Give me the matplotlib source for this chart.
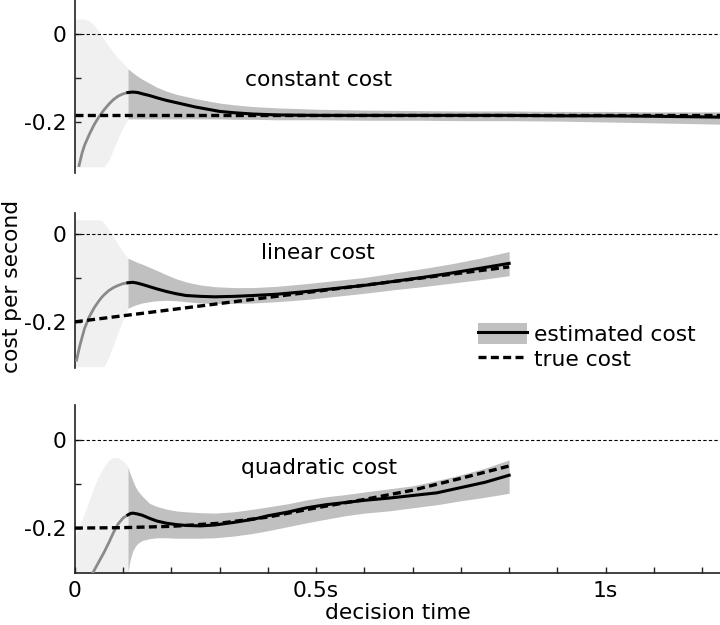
import matplotlib
matplotlib.use("Agg")
import matplotlib.pyplot as plt
import numpy as np
from matplotlib.patches import Patch
from matplotlib.lines import Line2D

# ---- data (x in seconds, y = cost per second) ----
nan = np.nan

# constant cost panel
c_t_early = [0, 0.008, 0.015, 0.02, 0.03, 0.04, 0.05, 0.06, 0.07, 0.08, 0.09, 0.10, 0.11]
c_est_early = [nan, -0.302, -0.27, -0.253, -0.228, -0.206, -0.188, -0.173, -0.160, -0.149, -0.141, -0.136, -0.133]
c_hi_early = [0.034, 0.034, 0.034, 0.034, 0.030, 0.020, 0.005, -0.012, -0.027, -0.042, -0.056, -0.067, -0.079]
c_lo_early = [-0.302, -0.302, -0.302, -0.302, -0.302, -0.302, -0.302, -0.302, -0.288, -0.262, -0.236, -0.212, -0.193]
c_t = [0.11, 0.12, 0.13, 0.14, 0.155, 0.17, 0.19, 0.21, 0.23, 0.25, 0.275, 0.30, 0.33, 0.37, 0.42,
       0.5, 0.6, 0.7, 0.8, 0.9, 1.0, 1.1, 1.2, 1.34]
c_est = [-0.133, -0.132, -0.133, -0.136, -0.140, -0.145, -0.151, -0.156, -0.161, -0.166, -0.171, -0.176,
         -0.179, -0.182, -0.184, -0.185, -0.185, -0.185, -0.185, -0.185, -0.186, -0.186, -0.187, -0.189]
c_hi = [-0.079, -0.088, -0.096, -0.103, -0.112, -0.121, -0.130, -0.137, -0.142, -0.147, -0.152, -0.157,
        -0.161, -0.165, -0.168, -0.171, -0.173, -0.174, -0.175, -0.175, -0.176, -0.176, -0.177, -0.177]
c_lo = [-0.193, -0.193, -0.193, -0.193, -0.193, -0.193, -0.193, -0.193, -0.193, -0.193, -0.193, -0.193,
        -0.194, -0.194, -0.195, -0.195, -0.196, -0.196, -0.197, -0.197, -0.198, -0.200, -0.202, -0.205]
c_true_t = [0, 1.34]
c_true = [-0.184, -0.184]

# linear cost panel
l_t_early = [0, 0.003, 0.01, 0.02, 0.03, 0.04, 0.05, 0.055, 0.06, 0.07, 0.08, 0.09, 0.10, 0.11]
l_est_early = [nan, -0.29, -0.255, -0.215, -0.188, -0.168, -0.152, -0.145, -0.139, -0.129, -0.122, -0.117, -0.113, -0.111]
l_hi_early = [0.032, 0.032, 0.032, 0.032, 0.032, 0.032, 0.032, 0.032, 0.025, 0.010, -0.007, -0.025, -0.041, -0.055]
l_lo_early = [-0.302, -0.302, -0.302, -0.302, -0.302, -0.302, -0.302, -0.302, -0.302, -0.28, -0.252, -0.222, -0.194, -0.169]
l_t = [0.11, 0.12, 0.13, 0.14, 0.155, 0.17, 0.19, 0.21, 0.23, 0.26, 0.29, 0.33, 0.37, 0.42, 0.48,
       0.54, 0.6, 0.66, 0.72, 0.78, 0.84, 0.9]
l_est = [-0.111, -0.110, -0.112, -0.115, -0.120, -0.125, -0.131, -0.136, -0.140, -0.142, -0.143, -0.142,
         -0.140, -0.137, -0.131, -0.124, -0.117, -0.108, -0.099, -0.089, -0.078, -0.067]
l_hi = [-0.055, -0.060, -0.065, -0.069, -0.076, -0.083, -0.093, -0.102, -0.109, -0.116, -0.120, -0.122,
        -0.122, -0.119, -0.113, -0.106, -0.099, -0.089, -0.079, -0.068, -0.055, -0.040]
l_lo = [-0.169, -0.164, -0.160, -0.157, -0.154, -0.152, -0.151, -0.152, -0.154, -0.157, -0.158, -0.158,
        -0.157, -0.154, -0.149, -0.142, -0.135, -0.127, -0.120, -0.112, -0.104, -0.095]
l_true_t = [0, 0.9]
l_true = [-0.2, -0.075]

# quadratic cost panel
q_t_early = [0, 0.01, 0.02, 0.03, 0.04, 0.05, 0.06, 0.07, 0.08, 0.09, 0.10, 0.11]
q_est_early = [nan, nan, -0.338, -0.318, -0.296, -0.276, -0.256, -0.234, -0.210, -0.190, -0.177, -0.170]
q_hi_early = [-0.22, -0.195, -0.166, -0.135, -0.106, -0.080, -0.061, -0.046, -0.039, -0.041, -0.048, -0.060]
q_lo_early = [-0.35, -0.35, -0.35, -0.35, -0.35, -0.35, -0.35, -0.35, -0.35, -0.35, -0.35, -0.35]
q_t = [0.11, 0.115, 0.12, 0.125, 0.13, 0.14, 0.155, 0.17, 0.19, 0.21, 0.23, 0.26, 0.29, 0.33, 0.37,
       0.40, 0.44, 0.48, 0.52, 0.56, 0.60, 0.65, 0.70, 0.75, 0.80, 0.85, 0.9]
q_est = [-0.170, -0.167, -0.166, -0.167, -0.168, -0.171, -0.178, -0.184, -0.189, -0.192, -0.194, -0.195,
         -0.193, -0.187, -0.180, -0.172, -0.164, -0.154, -0.147, -0.142, -0.137, -0.132, -0.126, -0.120,
         -0.108, -0.096, -0.080]
q_hi = [-0.062, -0.078, -0.092, -0.105, -0.115, -0.128, -0.144, -0.151, -0.157, -0.161, -0.163, -0.165,
        -0.166, -0.163, -0.157, -0.152, -0.145, -0.136, -0.129, -0.124, -0.118, -0.111, -0.104, -0.092,
        -0.079, -0.064, -0.045]
q_lo = [-0.300, -0.270, -0.252, -0.242, -0.235, -0.228, -0.224, -0.222, -0.222, -0.223, -0.223, -0.223,
        -0.222, -0.218, -0.212, -0.206, -0.197, -0.188, -0.180, -0.172, -0.166, -0.161, -0.154, -0.147,
        -0.138, -0.130, -0.121]
q_true_t = [0, 0.1, 0.2, 0.3, 0.4, 0.5, 0.6, 0.7, 0.8, 0.9]
q_true = [-0.2, -0.199, -0.196, -0.189, -0.175, -0.154, -0.135, -0.114, -0.087, -0.059]

panel_names = ["constant cost", "linear cost", "quadratic cost"]
x_ticks = [0, 0.1, 0.2, 0.3, 0.4, 0.5, 0.6, 0.7, 0.8, 0.9, 1.0, 1.1, 1.2, 1.3]
x_ticklabels = ["0", "", "", "", "", "0.5s", "", "", "", "", "", "1s", "", ""]

# ---- style ----
FS = 15.7
DARK = "#c0c0c0"
LIGHT = "#f0f0f0"
GRAYLINE = "#8a8a8a"
plt.rcParams['font.family'] = ['DejaVu Sans']
plt.rcParams['font.size'] = FS

fig = plt.figure(figsize=(7.2, 6.25), dpi=100)

# axes rectangles (left, bottom, width, height) and y limits per panel
rects = [(0.104, 0.7232, 0.896, 0.2768),
         (0.104, 0.4112, 0.896, 0.2480),
         (0.104, 0.0832, 0.896, 0.2688)]
ylims = [(-0.316, 0.0773), (-0.305, 0.0477), (-0.302, 0.0795)]

panels = [
    (c_t_early, c_est_early, c_hi_early, c_lo_early, c_t, c_est, c_hi, c_lo, c_true_t, c_true),
    (l_t_early, l_est_early, l_hi_early, l_lo_early, l_t, l_est, l_hi, l_lo, l_true_t, l_true),
    (q_t_early, q_est_early, q_hi_early, q_lo_early, q_t, q_est, q_hi, q_lo, q_true_t, q_true),
]
label_pos = [(0.505, -0.105), (0.504, -0.043), (0.505, -0.064)]

axes = []
for i, (te, ee, he, le, t, e, h, lo, tt, tv) in enumerate(panels):
    ax = fig.add_axes(rects[i])
    axes.append(ax)
    ax.fill_between(te, le, he, color=LIGHT, lw=0, zorder=1)
    ax.fill_between(t, lo, h, color=DARK, lw=0, zorder=1)
    ax.axhline(0, color="black", lw=0.8, ls=(0, (3, 2)), zorder=2)
    ax.plot(te, ee, color=GRAYLINE, lw=2.0, zorder=3, solid_capstyle="butt")
    ax.plot(t, e, color="black", lw=2.2, zorder=3)
    ax.plot(tt, tv, color="black", lw=2.4, dashes=[2.4, 1.3], zorder=4)
    ax.text(label_pos[i][0], label_pos[i][1], panel_names[i], ha="center", va="center", fontsize=FS)

    ax.set_xlim(0, 1.337)
    ax.set_ylim(*ylims[i])
    for s in ["top", "right", "bottom"]:
        ax.spines[s].set_visible(False)
    ax.spines["left"].set_linewidth(1.2)
    ax.spines["left"].set_color("#222222")
    ax.set_yticks([0, -0.2])
    ax.set_yticklabels(["0", "-0.2"])
    ax.set_yticks([-0.1], minor=True)
    ax.tick_params(axis="y", which="both", direction="in", length=4, width=1.0,
                   color="#222222", pad=6, labelsize=FS)
    if i < 2:
        ax.set_xticks([])
    else:
        ax.spines["bottom"].set_visible(True)
        ax.spines["bottom"].set_linewidth(1.2)
        ax.spines["bottom"].set_color("#222222")
        ax.set_xticks(x_ticks)
        ax.set_xticklabels(x_ticklabels)
        ax.tick_params(axis="x", direction="in", length=4, width=1.0,
                       color="#222222", pad=6, labelsize=FS)
        ax.set_xlabel("decision time", fontsize=FS, labelpad=1)

# legend in the middle panel
handles = [(Patch(facecolor=DARK, edgecolor="none"), Line2D([], [], color="black", lw=2.2)),
           Line2D([], [], color="black", lw=2.4, dashes=[2.4, 1.3])]
axes[1].legend(handles, ["estimated cost", "true cost"], loc="upper left",
               bbox_to_anchor=(0.625, 0.29), frameon=False, fontsize=FS,
               borderpad=0, borderaxespad=0, handlelength=2.25, handleheight=1.1,
               handletextpad=0.3, labelspacing=0.15)

fig.text(0.017, 1 - 286 / 625, "cost per second", rotation=90, ha="center", va="center", fontsize=FS)

fig.savefig("out.png", dpi=100)
